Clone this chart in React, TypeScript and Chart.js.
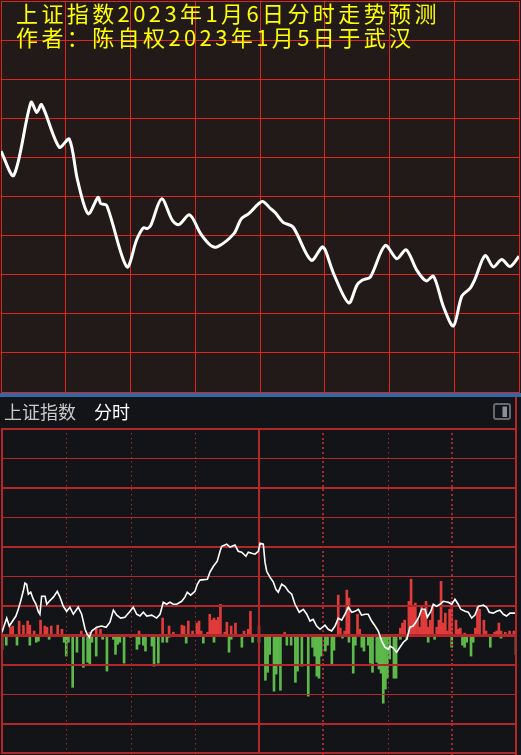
import React, { useEffect, useRef } from "react";
import { Chart, registerables } from "chart.js";

Chart.register(...registerables);

// ---------- text ----------
const TITLE_LINE_1 = "上证指数2023年1月6日分时走势预测";
const TITLE_LINE_2 = "作者：陈自权2023年1月5日于武汉";
const HEADER_NAME = "上证指数";
const HEADER_PERIOD = "分时";

// ---------- top panel: forecast line (minutes after open, index level) ----------
const forecastMinutes = [
  0, 5.9, 13.9, 16.6, 18.8, 27.0, 31.6, 35.5, 40.4, 45.0, 46.2, 49.0, 58.3, 62.9, 66.0,
  67.8, 69.4, 74.4, 79.4, 82.4, 87.4, 92.5, 97.1, 100.2, 107.9, 111.3, 114.8, 121.0, 124.9,
  127.2, 130.7, 135.3, 143.7, 148.8, 150.3, 154.1, 161.1, 164.9, 167.3, 171.1, 178.0, 183.4,
  187.7, 192.7, 197.0, 200.4, 205.0, 209.6, 213.5, 217.3, 219.7, 224.3, 228.1, 232.0, 235.8, 240,
];
const forecastLevels = [
  3131.6, 3125.4, 3144.1, 3141.5, 3143.5, 3132.6, 3134.7, 3124.1, 3115.6, 3119.8, 3118.2,
  3117.7, 3102.0, 3109.0, 3112.0, 3111.8, 3112.6, 3119.4, 3113.9, 3112.8, 3115.3, 3110.5,
  3107.5, 3107.1, 3110.5, 3114.3, 3115.6, 3118.7, 3116.9, 3115.8, 3113.4, 3112.2, 3103.7,
  3107.1, 3106.2, 3100.3, 3092.8, 3097.3, 3098.6, 3099.4, 3107.5, 3104.1, 3106.4, 3101.1,
  3098.4, 3099.6, 3091.8, 3086.9, 3094.5, 3096.5, 3099.0, 3104.9, 3102.0, 3103.9, 3102.1, 3104.7,
];
const forecastMin = 3070;
const forecastMax = 3170;
const forecastStep = 10;

// ---------- bottom panel: intraday line (grid units) ----------
const priceMinutes = [
  0, 2.2, 3.4, 6.5, 7.6, 8.7, 9.9, 10.7, 11.5, 12.3, 13.4, 14.6, 15.9, 16.9, 17.7, 18.5, 20.1,
  20.9, 22.1, 24.0, 25.8, 27.1, 28.6, 30.2, 31.7, 33.3, 35.6, 37.2, 38.8, 39.8, 40.8, 41.9,
  44.2, 46.5, 48.6, 50.4, 52.0, 53.6, 55.4, 57.4, 59.4, 61.3, 62.9, 64.4, 66.0, 67.6, 69.9,
  72.2, 73.8, 75.3, 76.9, 78.4, 80.0, 81.6, 83.9, 85.4, 86.5, 88.1, 90.1, 91.2, 92.4, 95.9,
  97.1, 98.7, 100.5, 101.8, 102.6, 104.9, 106.5, 108.8, 110.3, 111.9, 113.9, 115.0, 116.6,
  118.1, 119.7, 120.5, 122.0, 122.8, 123.6, 125.1, 126.7, 127.9, 129.0, 130.6, 132.1, 133.7,
  135.3, 136.8, 138.8, 140.7, 142.3, 143.8, 145.3, 146.9, 148.5, 150.8, 152.3, 153.9, 155.5,
  157.0, 158.6, 160.1, 161.7, 163.3, 164.8, 166.4, 167.9, 169.5, 171.0, 172.6, 174.2, 175.7,
  177.3, 178.8, 180.4, 181.2, 182.7, 184.3, 185.8, 187.4, 189.0, 190.5, 192.0, 193.6, 194.8,
  195.9, 197.5, 198.6, 200.2, 201.4, 202.9, 204.5, 206.0, 208.4, 210.0, 211.5, 213.0, 214.2,
  216.2, 217.7, 219.3, 220.8, 222.4, 224.7, 226.3, 227.5, 229.4, 231.0, 232.5, 234.1, 235.6,
  237.2, 239.5,
];
const priceValues = [
  0.1, 0.58, 0.31, 0.65, 0.88, 1.15, 1.49, 1.77, 1.73, 1.39, 1.46, 1.22, 1.05, 0.81, 0.71, 1.32,
  1.32, 1.05, 1.15, 1.29, 1.49, 1.29, 0.98, 0.81, 0.95, 0.71, 0.95, 0.71, 0.2, 0.03, -0.07, 0.14,
  0.27, 0.31, 0.27, 0.44, 0.85, 0.68, 0.58, 0.61, 0.78, 0.95, 0.71, 0.65, 0.78, 0.65, 0.68,
  0.58, 0.71, 1.12, 1.05, 1.12, 1.05, 1.05, 1.15, 1.29, 1.46, 1.36, 1.49, 1.73, 1.87, 1.9,
  2.14, 2.34, 2.51, 2.85, 3.02, 3.09, 2.99, 3.06, 2.85, 2.82, 2.68, 2.82, 2.78,
  2.75, 2.85, 3.12, 3.09, 2.48, 2.17, 1.97, 1.8, 1.56, 1.46, 1.73, 1.66, 1.49,
  1.39, 1.05, 0.78, 0.88, 0.71, 0.48, 0.54, 0.31, 0.2, 0.34, 0.2, 0.14, 0.31,
  0.58, 0.51, 0.71, 0.95, 0.78, 0.81, 0.88, 0.68, 0.71, 0.71, 0.48, 0.31, 0.14,
  -0.2, -0.41, -0.48, -0.37, -0.44, -0.58, -0.41, -0.24, -0.14, 0.27, 0.31, 0.48, 0.65,
  0.88, 0.88, 0.61, 0.81, 1.05, 0.98, 1.05, 1.15, 1.12, 1.05, 1.22, 1.05, 0.88,
  0.81, 0.78, 0.58, 0.68, 0.98, 1.02, 0.95, 0.78, 0.75, 0.81, 0.85, 0.71, 0.65,
  0.75, 0.75,
];

// ---------- bottom panel: red (up) bars ----------
const redBarMinutes = [
  4, 5, 8, 10, 12, 13, 15, 18, 20, 21, 23, 26, 28, 37, 41, 44, 46, 64, 75, 78, 80, 84, 85, 87,
  89, 91, 92, 93, 96, 97, 98, 99, 100, 101, 102, 104, 105, 107, 109, 113, 115, 116, 120, 132,
  157, 158, 160, 161, 162, 166, 167, 186, 187, 188, 190, 191, 192, 193, 194, 195, 196, 197,
  198, 199, 200, 201, 203, 204, 205, 206, 207, 208, 209, 210, 212, 213, 214, 216, 221, 222,
  223, 225, 226, 230, 231, 232, 233, 235, 237, 239,
];
const redBarValues = [
  0.27, 0.31, 0.48, 0.34, 0.48, 0.34, 0.14, 0.51, 0.31, 0.27, 0.31, 0.34, 0.2, 0.14, 0.1, 0.24,
  0.2, 0.14, 0.58, 0.31, 0.1, 0.34, 0.31, 0.48, 0.14, 0.41, 0.48, 0.14, 0.1, 0.71, 0.51, 0.58,
  0.51, 0.61, 1.05, 0.1, 0.44, 0.31, 0.41, 0.14, 0.2, 0.81, 0.31, 0.1,
  1.36, 0.24, 0.14, 1.53, 1.26, 0.71, 0.2, 0.24, 0.41, 0.51, 1.15, 1.9, 1.02, 1.09, 0.54,
  0.27, 0.98, 0.85, 1.15, 0.27, 0.51, 0.95, 0.27, 0.51, 1.83, 0.41, 0.75, 0.14, 0.88, 1.15,
  0.51, 0.2, 0.24, 0.07, 0.24, 0.98, 0.88, 0.51, 0.14, 0.1, 0.14, 0.41, 0.14, 0.1, 0.14, 0.14,
];

// ---------- bottom panel: green (down) bars ----------
const greenBarMinutes = [
  0, 2, 7, 13, 16, 17, 22, 29, 30, 31, 33, 35, 38, 40, 41, 42, 44, 47, 49, 52, 53, 54, 55, 57,
  60, 63, 64, 66, 67, 70, 71, 73, 75, 77, 78, 86, 94, 99, 106, 107, 112, 117, 120, 123, 124,
  125, 127, 128, 129, 130, 133, 135, 137, 138, 140, 141, 143, 145, 146, 147, 148, 149, 151,
  152, 154, 155, 159, 162, 164, 165, 168, 169, 171, 172, 173, 175, 176, 177, 178, 179, 180,
  181, 183, 184, 186, 189, 194, 199, 202, 210, 215, 216, 217, 219, 220, 228, 233, 240,
];
const greenBarValues = [
  -0.48, -0.34, -0.34, -0.34, -0.24, -0.2, -0.14, -0.24, -0.71, -0.24, -1.77, -0.58, -1.09,
  -0.92, -1.02, -0.24, -0.71, -0.14, -1.22, -0.14, -0.65, -0.31, -0.24, -0.95, -0.07, -0.48,
  -0.31, -0.34, -0.54, -0.37, -1.05, -0.95, -0.24, -0.24, -0.07, -0.27, -0.27, -0.24, -0.58,
  -0.14, -0.41, -0.24, -0.24, -1.53, -1.26, -0.65, -1.9, -1.32, -0.98, -1.87, -0.34, -0.34,
  -1.6, -1.22, -1.05, -0.05, -2.07, -0.41, -0.71, -1.39, -1.46, -0.71, -0.54, -0.34, -0.98,
  -0.51, -0.1, -0.24, -1.29, -0.34, -0.41, -0.54, -0.34, -0.95, -1.26, -0.92, -1.15, -1.29,
  -2.31, -1.83, -1.46, -0.81, -1.46, -1.46, -0.14, -0.14, -0.05, -0.24, -0.14, -0.41, -0.34,
  -0.41, -0.24, -0.71, -0.24, -0.41, -0.1, -0.65,
];
const bottomMin = -4;
const bottomMax = 7;

// ---------- colours ----------
const TOP_BG = "#211a19";
const TOP_GRID = "#e2231f";
const BOTTOM_BG = "#131417";
const BOTTOM_GRID = "#b3272a";
const DOT_GRID = "#a3282b";

const zip = (xs: number[], ys: number[]) => xs.map((x, i) => ({ x, y: ys[i] }));

const topDecor = {
  id: "topDecor",
  beforeDraw(chart: any) {
    const ctx = chart.ctx;
    ctx.save();
    ctx.fillStyle = TOP_BG;
    ctx.fillRect(0, 0, chart.width, chart.height);
    ctx.restore();
  },
  afterDraw(chart: any) {
    const ctx = chart.ctx;
    ctx.save();
    ctx.fillStyle = "#ffff00";
    ctx.font = '22px "Noto Sans CJK SC"';
    (ctx as any).letterSpacing = "3.4px";
    ctx.textBaseline = "alphabetic";
    ctx.fillText(TITLE_LINE_1, 16, 21.5);
    ctx.fillText(TITLE_LINE_2, 16, 46);
    ctx.restore();
  },
};

const bottomDecor = {
  id: "bottomDecor",
  beforeDraw(chart: any) {
    const ctx = chart.ctx;
    ctx.save();
    ctx.fillStyle = BOTTOM_BG;
    ctx.fillRect(0, 0, chart.width, chart.height);
    ctx.font = '18px "Noto Sans CJK SC"';
    ctx.textBaseline = "alphabetic";
    ctx.fillStyle = "#c9c9c9";
    ctx.fillText(HEADER_NAME, 4, 21.5);
    ctx.fillStyle = "#ffffff";
    ctx.fillText(HEADER_PERIOD, 94, 21.5);
    // window icon
    ctx.strokeStyle = "#666a6e";
    ctx.lineWidth = 2;
    ctx.beginPath();
    (ctx as any).roundRect(494, 7, 16, 15, 2);
    ctx.stroke();
    ctx.fillStyle = "#8c8f93";
    ctx.fillRect(502.5, 9.5, 4.5, 10.5);
    // right edge of the panel
    const xs = chart.scales.x;
    ctx.fillStyle = BOTTOM_GRID;
    ctx.fillRect(Math.round(xs.getPixelForValue(240)) - 1, 0, 2, chart.height);
    ctx.restore();
  },
  afterDatasetDraw(chart: any, args: any) {
    if (args.index !== 1) return;
    const ctx = chart.ctx;
    const xs = chart.scales.x;
    const ys = chart.scales.y;
    const { left, right, top, bottom } = chart.chartArea;
    ctx.save();
    // horizontal lines
    ctx.fillStyle = BOTTOM_GRID;
    ys.ticks.forEach((t: any) => {
      const v = t.value;
      const y = Math.round(ys.getPixelForValue(v));
      let w = v % 2 === 0 ? 1 : 2;
      if (v === 0) w = 3;
      if (v === bottomMin || v === bottomMax) w = 2;
      ctx.fillRect(left - 1, y - Math.floor(w / 2), right - left + 2, w);
    });
    // vertical lines
    xs.ticks.forEach((t: any) => {
      const v = t.value;
      const x = Math.round(xs.getPixelForValue(v));
      if (v === 0 || v === 120 || v === 240) {
        ctx.fillStyle = BOTTOM_GRID;
        ctx.fillRect(x - 1, top, 2, bottom - top);
      } else {
        const thick = v === 150 || v === 210;
        ctx.fillStyle = DOT_GRID;
        for (let y = top + 4; y < bottom; y += 4.7) {
          ctx.fillRect(thick ? x - 1 : x, Math.round(y), thick ? 2 : 1, thick ? 2 : 1.5);
        }
      }
    });
    ctx.restore();
  },
};

export default function App() {
  const topRef = useRef<HTMLCanvasElement>(null);
  const botRef = useRef<HTMLCanvasElement>(null);

  useEffect(() => {
    const top = new Chart(topRef.current as HTMLCanvasElement, {
      type: "line",
      data: {
        datasets: [
          {
            data: zip(forecastMinutes, forecastLevels),
            borderColor: "#ffffff",
            borderWidth: 3,
            pointRadius: 0,
            tension: 0.3,
            fill: false,
          },
        ],
      },
      options: {
        animation: false,
        responsive: false,
        maintainAspectRatio: false,
        layout: { padding: { left: 1, right: 2, top: 1, bottom: 1 } },
        plugins: { legend: { display: false }, tooltip: { enabled: false } },
        scales: {
          x: {
            type: "linear",
            min: 0,
            max: 240,
            ticks: { display: false, stepSize: 30 },
            grid: { color: TOP_GRID, lineWidth: 1, drawTicks: false },
            border: { display: true, color: TOP_GRID, width: 1 },
            afterFit: (s: any) => {
              s.height = 0;
            },
          },
          y: {
            type: "linear",
            min: forecastMin,
            max: forecastMax,
            ticks: { display: false, stepSize: forecastStep },
            grid: { color: TOP_GRID, lineWidth: 1, drawTicks: false },
            border: { display: true, color: TOP_GRID, width: 1 },
            afterFit: (s: any) => {
              s.width = 0;
            },
          },
        },
      },
      plugins: [topDecor],
    } as any);

    const bottom = new Chart(botRef.current as HTMLCanvasElement, {
      type: "bar",
      data: {
        datasets: [
          {
            type: "line",
            data: zip(priceMinutes, priceValues),
            borderColor: "#ffffff",
            borderWidth: 1.6,
            pointRadius: 0,
            tension: 0,
            fill: false,
          },
          {
            type: "bar",
            data: zip(redBarMinutes, redBarValues),
            backgroundColor: "#e03b3b",
            barThickness: 2,
            grouped: false,
          },
          {
            type: "bar",
            data: zip(greenBarMinutes, greenBarValues),
            backgroundColor: "#5cb94a",
            barThickness: 2,
            grouped: false,
          },
        ],
      },
      options: {
        animation: false,
        responsive: false,
        maintainAspectRatio: false,
        layout: { padding: { left: 2, right: 5, top: 32, bottom: 2 } },
        plugins: { legend: { display: false }, tooltip: { enabled: false } },
        scales: {
          x: {
            type: "linear",
            min: 0,
            max: 240,
            offset: false,
            ticks: { display: false, stepSize: 30 },
            grid: { display: false, drawTicks: false },
            border: { display: false },
            afterFit: (s: any) => {
              s.height = 0;
            },
          },
          y: {
            type: "linear",
            min: bottomMin,
            max: bottomMax,
            ticks: { display: false, stepSize: 1 },
            grid: { display: false, drawTicks: false },
            border: { display: false },
            afterFit: (s: any) => {
              s.width = 0;
            },
          },
        },
      },
      plugins: [bottomDecor],
    } as any);

    return () => {
      top.destroy();
      bottom.destroy();
    };
  }, []);

  return (
    <div
      style={{
        position: "absolute",
        left: 0,
        top: 0,
        width: 521,
        height: 755,
        background: BOTTOM_BG,
        overflow: "hidden",
      }}
    >
      <canvas
        ref={topRef}
        width={521}
        height={393}
        style={{ position: "absolute", left: 0, top: 0, width: 521, height: 393 }}
      />
      <div
        style={{
          position: "absolute",
          left: 0,
          top: 393,
          width: 521,
          height: 4,
          background: "#2f6aa8",
        }}
      />
      <canvas
        ref={botRef}
        width={521}
        height={358}
        style={{ position: "absolute", left: 0, top: 397, width: 521, height: 358 }}
      />
    </div>
  );
}
